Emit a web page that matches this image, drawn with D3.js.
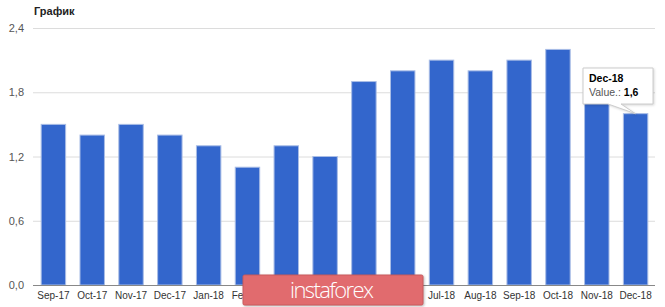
<!DOCTYPE html>
<html>
<head>
<meta charset="utf-8">
<script src="https://cdn.jsdelivr.net/npm/d3@7"></script>
<style>
  body { margin: 0; background: #fff; }
  svg { display: block; font-family: Arial, "Liberation Sans", sans-serif; }
</style>
</head>
<body>
<svg id="chart" width="665" height="307"></svg>
<script>
const months = ['Sep-17','Oct-17','Nov-17','Dec-17','Jan-18','Feb-18','Mar-18','Apr-18',
                'May-18','Jun-18','Jul-18','Aug-18','Sep-18','Oct-18','Nov-18','Dec-18'];
const values = [1.5, 1.4, 1.5, 1.4, 1.3, 1.1, 1.3, 1.2, 1.9, 2.0, 2.1, 2.0, 2.1, 2.2, 1.7, 1.6];
const yTicks = [0, 0.6, 1.2, 1.8, 2.4];
const title = 'График';
const hoverIdx = 15; // tooltip is shown on the last bar

const svg = d3.select('#chart');
const fmt = v => d3.format('.1f')(v).replace('.', ',');

const x = d3.scaleBand().domain(months).range([34, 655]).paddingInner(0.37).paddingOuter(0.185);
const y = d3.scaleLinear().domain([0, 2.4]).range([285, 28]);

// title
svg.append('text').attr('x', 34).attr('y', 15)
  .attr('font-size', 11).attr('font-weight', 'bold').attr('fill', '#222')
  .text(title);

// grid + y labels
const grid = svg.append('g');
yTicks.forEach(t => {
  if (t > 0) {
    grid.append('line').attr('x1', 33).attr('x2', 655)
      .attr('y1', y(t) + 0.5).attr('y2', y(t) + 0.5)
      .attr('stroke', '#dcdcdc');
  }
  grid.append('text').attr('x', 24).attr('y', y(t) + 4)
    .attr('text-anchor', 'end').attr('font-size', 11).attr('fill', '#555')
    .text(fmt(t));
});

// bars
svg.append('g').selectAll('rect').data(values).join('rect')
  .attr('x', (d, i) => x(months[i]))
  .attr('y', d => y(d))
  .attr('width', x.bandwidth())
  .attr('height', d => y(0) - y(d))
  .attr('fill', '#3366cc')
  .attr('stroke', '#a9bde6').attr('stroke-width', 1);

// baseline
svg.append('line').attr('x1', 33).attr('x2', 655)
  .attr('y1', y(0) + 0.5).attr('y2', y(0) + 0.5)
  .attr('stroke', '#888');

// x labels
svg.append('g').selectAll('text').data(months).join('text')
  .attr('x', d => x(d) + x.bandwidth() / 2)
  .attr('y', 299)
  .attr('text-anchor', 'middle').attr('font-size', 10).attr('fill', '#333')
  .text(d => d);

// tooltip
const tipX = x(months[hoverIdx]) + 12, tipY = y(values[hoverIdx]);
const tip = svg.append('g');
const bx = 583, by = 68, bw = 70, bh = 36;
tip.append('path')
  .attr('d', `M${bx},${by} H${bx + bw} V${by + bh} H${bx + 38} L${tipX},${tipY} L${bx + 25},${by + bh} H${bx} Z`)
  .attr('fill', '#fff').attr('stroke', '#ccc')
  .style('filter', 'drop-shadow(1px 1px 1px rgba(0,0,0,0.15))');
tip.append('text').attr('x', bx + 6).attr('y', by + 14)
  .attr('font-size', 10.5).attr('font-weight', 'bold').attr('fill', '#000')
  .text(months[hoverIdx]);
const vt = tip.append('text').attr('x', bx + 6).attr('y', by + 28).attr('font-size', 10.5);
vt.append('tspan').attr('fill', '#555').text('Value.: ');
vt.append('tspan').attr('font-weight', 'bold').attr('fill', '#000').text(fmt(values[hoverIdx]));

// watermark
const wm = svg.append('g');
wm.append('rect').attr('x', 243).attr('y', 275).attr('width', 180).attr('height', 30)
  .attr('rx', 1.5).attr('fill', '#e16b6e').attr('stroke', '#c95a5d')
  .style('filter', 'drop-shadow(1px 1px 1px rgba(0,0,0,0.25))');
wm.append('text').attr('x', 332).attr('y', 298)
  .attr('text-anchor', 'middle').attr('font-size', 22)
  .attr('font-family', '"Open Sans", sans-serif').attr('font-weight', 300)
  .attr('fill', '#fff').attr('textLength', 84)
  .text('instaforex');
</script>
</body>
</html>
